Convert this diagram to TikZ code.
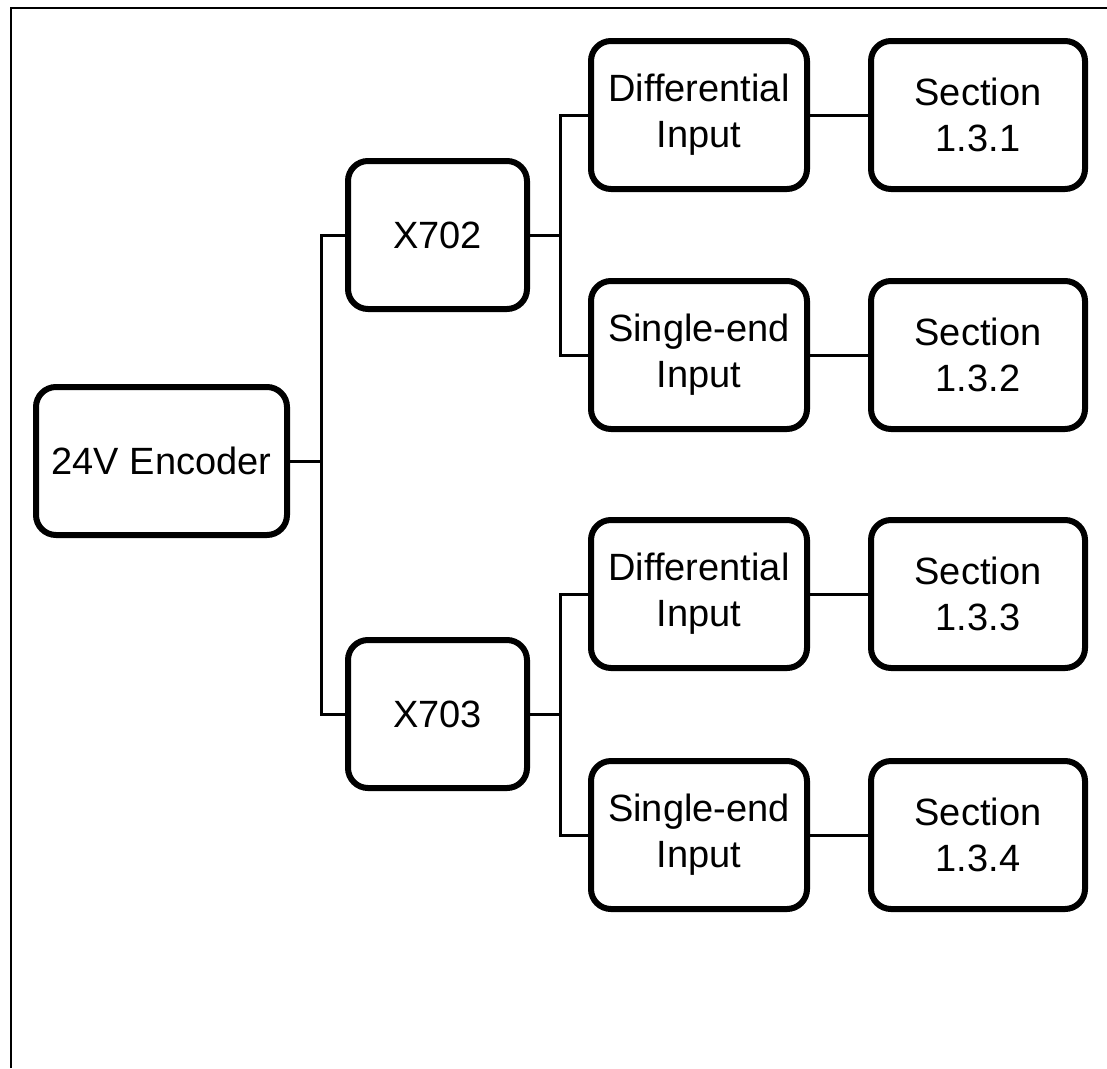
\documentclass[tikz,border=0pt]{standalone}
\usepackage{fontspec}
\setmainfont{Liberation Sans}
\begin{document}
\begin{tikzpicture}[x=1pt,y=-1pt,
  blk/.style={draw=black, line width=6pt, rounded corners=20pt, fill=white,
    align=center, inner sep=0pt, font=\fontsize{38}{46}\selectfont,
    minimum height=148pt},
  wire/.style={draw=black, line width=3pt},
  frame/.style={draw=black, line width=2.5pt}]
\useasboundingbox (0,0) rectangle (1107,1068);
\draw[frame] (11,1068) -- (11,8) -- (1107,8);

\node[blk, minimum width=251pt] (enc) at (161.5,461) {24V Encoder};
\node[blk, minimum width=179pt] (x702) at (437.5,235) {X702};
\node[blk, minimum width=179pt] (x703) at (437.5,714) {X703};

\node[blk, minimum width=216pt] (d1) at (699,115) {Differential\\Input};
\node[blk, minimum width=216pt] (s1) at (699,355) {Single-end\\Input};
\node[blk, minimum width=216pt] (d2) at (699,594) {Differential\\Input};
\node[blk, minimum width=216pt] (s2) at (699,835) {Single-end\\Input};

\node[blk, minimum width=214pt] (c1) at (978,115) {Section\\1.3.1};
\node[blk, minimum width=214pt] (c2) at (978,355) {Section\\1.3.2};
\node[blk, minimum width=214pt] (c3) at (978,594) {Section\\1.3.3};
\node[blk, minimum width=214pt] (c4) at (978,835) {Section\\1.3.4};

\coordinate (j1) at (321,461);
\coordinate (j2) at (560,235);
\coordinate (j3) at (560,714);

\draw[wire] (enc.east) -- (j1);
\draw[wire] (x702.west) -| (j1);
\draw[wire] (j1) |- (x703.west);

\draw[wire] (x702.east) -- (j2);
\draw[wire] (d1.west) -| (j2);
\draw[wire] (j2) |- (s1.west);

\draw[wire] (x703.east) -- (j3);
\draw[wire] (d2.west) -| (j3);
\draw[wire] (j3) |- (s2.west);

\draw[wire] (d1.east) -- (c1.west);
\draw[wire] (s1.east) -- (c2.west);
\draw[wire] (d2.east) -- (c3.west);
\draw[wire] (s2.east) -- (c4.west);
\end{tikzpicture}
\end{document}
